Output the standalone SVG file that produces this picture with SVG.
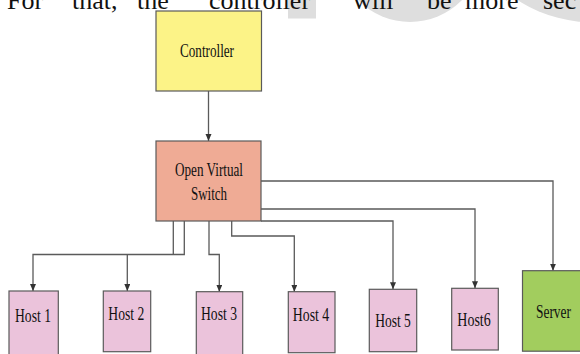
<svg xmlns="http://www.w3.org/2000/svg" width="580" height="354" viewBox="0 0 580 354">
  <style>
    .box { stroke: #5a5a5a; stroke-width: 1.2; }
    .ctrl { fill: #fcf387; }
    .sw { fill: #efab95; }
    .host { fill: #ebc3db; }
    .srv { fill: #a2cd5e; }
    .lbl { font-family: "Liberation Serif", "Times New Roman", serif; font-size: 19.5px; fill: #111; text-anchor: middle; }
    .para { font-family: "Liberation Serif", "Times New Roman", serif; font-size: 26px; fill: #111; }
    .wm { fill: #dedede; }
    .link { fill: none; stroke: #5a5a5a; stroke-width: 1.3; }
  </style>
  <defs>
    <marker id="arrow" markerUnits="userSpaceOnUse" markerWidth="8" markerHeight="7" refX="7" refY="3" orient="auto">
      <path d="M0,0 L7,3 L0,6 z" fill="#333"/>
    </marker>
  </defs>

  <rect width="580" height="354" fill="#ffffff"/>

  <!-- page watermark -->
  <g id="watermark">
    <rect class="wm" x="288" y="0" width="28" height="18.5"/>
    <circle class="wm" cx="410" cy="-50.5" r="72.5"/>
    <ellipse class="wm" cx="600" cy="-45" rx="110" ry="68"/>
  </g>

  <!-- running body text line -->
  <g id="body-text" class="para">
    <text x="7" y="8.5">For</text>
    <text x="72" y="8.5">that,</text>
    <text x="137" y="8.5">the</text>
    <text x="209" y="8.5">controller</text>
    <text x="353" y="8.5">will</text>
    <text x="427" y="8.5">be</text>
    <text x="465" y="8.5">more</text>
    <text x="543" y="8.5">sec</text>
  </g>

  <!-- connectors -->
  <g id="connectors">
    <path class="link" d="M208.5 91 V141" marker-end="url(#arrow)"/>
    <path class="link" d="M261 181 H553 V270.7" marker-end="url(#arrow)"/>
    <path class="link" d="M261 209 H475 V288.3" marker-end="url(#arrow)"/>
    <path class="link" d="M261 221 H393 V289.3" marker-end="url(#arrow)"/>
    <path class="link" d="M231.7 221 V236 H294.3 V291.7" marker-end="url(#arrow)"/>
    <path class="link" d="M209 221 V254.5 H219.3 V291.7" marker-end="url(#arrow)"/>
    <path class="link" d="M184.3 221 V254.5 H33 V291" marker-end="url(#arrow)"/>
    <path class="link" d="M173.3 221 V254.5"/>
    <path class="link" d="M127.3 254.5 V291" marker-end="url(#arrow)"/>
  </g>

  <g id="controller">
    <rect class="box ctrl" x="156" y="11" width="105.5" height="80"/>
    <text class="lbl" x="207" y="57" textLength="54" lengthAdjust="spacingAndGlyphs">Controller</text>
  </g>

  <g id="open-virtual-switch">
    <rect class="box sw" x="156" y="141" width="105" height="80"/>
    <text class="lbl" x="209" y="176" textLength="68" lengthAdjust="spacingAndGlyphs">Open Virtual</text>
    <text class="lbl" x="209" y="199.5" textLength="36" lengthAdjust="spacingAndGlyphs">Switch</text>
  </g>

  <g id="host1">
    <rect class="box host" x="9" y="291" width="49.3" height="65"/>
    <text class="lbl" x="33" y="321.5" textLength="36" lengthAdjust="spacingAndGlyphs">Host 1</text>
  </g>

  <g id="host2">
    <rect class="box host" x="103.3" y="291" width="47.4" height="60.7"/>
    <text class="lbl" x="126.3" y="320" textLength="36" lengthAdjust="spacingAndGlyphs">Host 2</text>
  </g>

  <g id="host3">
    <rect class="box host" x="196.3" y="291.7" width="46.4" height="64"/>
    <text class="lbl" x="219" y="320" textLength="36" lengthAdjust="spacingAndGlyphs">Host 3</text>
  </g>

  <g id="host4">
    <rect class="box host" x="288.3" y="291.7" width="46.7" height="61"/>
    <text class="lbl" x="311" y="320.5" textLength="36.5" lengthAdjust="spacingAndGlyphs">Host 4</text>
  </g>

  <g id="host5">
    <rect class="box host" x="369.3" y="289.3" width="47.4" height="62.4"/>
    <text class="lbl" x="393" y="327" textLength="35.7" lengthAdjust="spacingAndGlyphs">Host 5</text>
  </g>

  <g id="host6">
    <rect class="box host" x="451.7" y="288.3" width="46.6" height="61.7"/>
    <text class="lbl" x="474" y="326" textLength="33.4" lengthAdjust="spacingAndGlyphs">Host6</text>
  </g>

  <g id="server">
    <rect class="box srv" x="522.5" y="270.7" width="62" height="80.5"/>
    <text class="lbl" x="553.5" y="317.5" textLength="35" lengthAdjust="spacingAndGlyphs">Server</text>
  </g>
</svg>
